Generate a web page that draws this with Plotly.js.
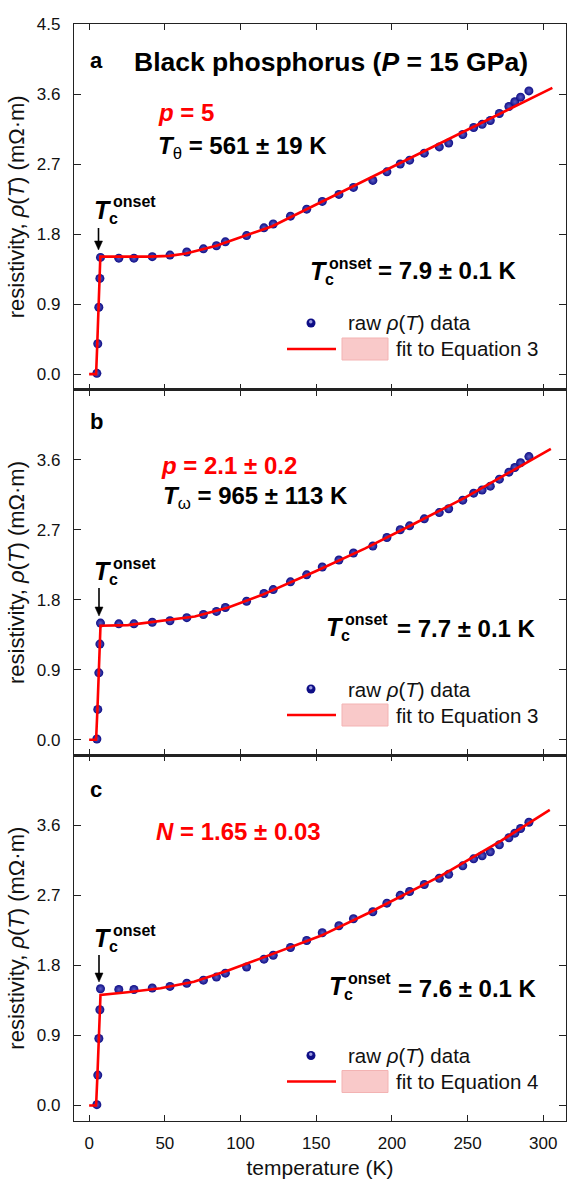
<!DOCTYPE html>
<html><head><meta charset="utf-8">
<script src="https://cdn.plot.ly/plotly-3.0.1.min.js"></script>
<style>html,body{margin:0;padding:0;background:#fff}</style>
</head><body><div id="chart" style="width:567px;height:1185px"></div>
<script>
// ---- data ----
const rawT   = [5.1, 5.7, 6.4, 7.1, 7.5, 19.6, 29.6, 41.7, 53.4, 64.5, 75.5, 84.1, 90, 104, 115.5, 121.6, 133, 143.7, 154, 165, 174.6, 187.4, 196.7, 205.5, 211.7, 221.4, 231.3, 237.5, 246.8, 254, 259.6, 265, 271, 277.3, 281.2, 285, 290.5];
const rawRho = [0.01, 0.39, 0.86, 1.23, 1.50, 1.49, 1.49, 1.51, 1.53, 1.57, 1.61, 1.65, 1.70, 1.78, 1.88, 1.93, 2.03, 2.12, 2.22, 2.31, 2.40, 2.49, 2.60, 2.70, 2.75, 2.84, 2.92, 2.97, 3.08, 3.17, 3.21, 3.26, 3.35, 3.44, 3.50, 3.56, 3.64];

const fitA_T   = [0, 4.6, 5.3, 6.4, 7.4, 20, 40, 53, 64, 84, 104, 121, 150, 200, 250, 306];
const fitA_Rho = [0, 0.0, 0.35, 0.95, 1.51, 1.51, 1.51, 1.52, 1.55, 1.65, 1.78, 1.90, 2.18, 2.66, 3.14, 3.68];

const fitB_T   = [0, 4.6, 5.5, 6.5, 7.5, 25.6, 47.7, 69.8, 91.9, 113.9, 150, 182.4, 215, 248, 305];
const fitB_Rho = [0, 0.0, 0.4, 0.95, 1.465, 1.474, 1.525, 1.585, 1.70, 1.86, 2.17, 2.46, 2.78, 3.11, 3.74];

const fitC_T   = [0, 4.6, 5.5, 6.5, 7.5, 25.3, 47.2, 69.2, 91.3, 113.4, 135.4, 153, 184.2, 232.3, 272, 304.3];
const fitC_Rho = [0, 0.0, 0.4, 0.95, 1.42, 1.455, 1.506, 1.59, 1.73, 1.89, 2.05, 2.18, 2.47, 2.95, 3.40, 3.80];

const xTicks = [0, 50, 100, 150, 200, 250, 300];
const yTicksTop = [0, 0.9, 1.8, 2.7, 3.6, 4.5];
const yTicksLow = [0, 0.9, 1.8, 2.7, 3.6];

const panelLetters = ['a', 'b', 'c'];
const equationNames = ['fit to Equation 3', 'fit to Equation 3', 'fit to Equation 4'];
const onsetTexts = ['= 7.9 ± 0.1 K', '= 7.7 ± 0.1 K', '= 7.6 ± 0.1 K'];

// ---- styling / layout ----
const FONT = 'Arial, "Liberation Sans", sans-serif';
const RED = '#ff0000';
const W = 567, H = 1185;
const M = {l: 74, r: 1, t: 24, b: 64};
const PW = W - M.l - M.r, PH = H - M.t - M.b;
const px = x => (x - M.l) / PW;
const py = y => 1 - (y - M.t) / PH;

const fits = [[fitA_T, fitA_Rho], [fitB_T, fitB_Rho], [fitC_T, fitC_Rho]];
const axSuffix = ['', '2', '3'];
const traces = [];
fits.forEach((f, i) => {
  const xa = 'x' + axSuffix[i], ya = 'y' + axSuffix[i];
  traces.push({x: rawT, y: rawRho, xaxis: xa, yaxis: ya, type: 'scatter', mode: 'markers',
    marker: {size: 9, color: '#0e0e86', gradient: {type: 'radial', color: '#5c5cc4'}, line: {width: 0}},
    showlegend: false, hoverinfo: 'skip'});
  traces.push({x: f[0], y: f[1], xaxis: xa, yaxis: ya, type: 'scatter', mode: 'lines',
    line: {color: RED, width: 2.6}, showlegend: false, hoverinfo: 'skip'});
});

const axisCommon = {showline: true, linecolor: '#222', linewidth: 1.2, mirror: 'ticks',
  ticks: 'inside', tickcolor: '#222', showgrid: false, zeroline: false,
  tickfont: {family: FONT, size: 17, color: '#111'}};

const layout = {width: W, height: H, margin: M, paper_bgcolor: '#fff', plot_bgcolor: '#fff',
  showlegend: false, font: {family: FONT}, annotations: [], shapes: []};

const yTitle = 'resistivity, <i>ρ</i>(<i>T</i>) (mΩ·m)';
const domains = [[2/3, 1], [1/3, 2/3], [0, 1/3]];
for (let i = 0; i < 3; i++) {
  const s = axSuffix[i];
  const xax = Object.assign({}, axisCommon, {anchor: 'y' + s, domain: [0, 1], range: [-10, 315],
    tickvals: xTicks, ticklen: 6, showticklabels: i === 2, ticklabelstandoff: 6});
  if (i === 2) xax.title = {text: 'temperature (K)', font: {family: FONT, size: 21, color: '#111'}, standoff: 8};
  layout['xaxis' + s] = xax;
  layout['yaxis' + s] = Object.assign({}, axisCommon, {anchor: 'x' + s, domain: domains[i], range: [-0.2, 4.5],
    tickvals: i === 0 ? yTicksTop : yTicksLow, tickformat: '.1f', ticklen: 7, ticklabelstandoff: 9,
    title: {text: yTitle, font: {family: FONT, size: 22, color: '#111'}, standoff: 6}});
}

const A = layout.annotations, S = layout.shapes;
function txt(x, y, text, size, color, xa, extra) {
  return Object.assign({xref: 'paper', yref: 'paper', x: px(x), y: py(y), text: text, showarrow: false,
    xanchor: xa || 'left', yanchor: 'middle', font: {family: FONT, size: size, color: color || '#000'}}, extra || {});
}
function tcLabel(x, y, sizeT) {
  A.push(txt(x, y, '<b><i>T</i></b>', sizeT));
  A.push(txt(x + 15, y + 8, '<b>c</b>', 16));
  A.push(txt(x + 19, y - 8, '<b>onset</b>', 16));
}
function arrow(x, yTip, len) {
  const yT = yTip - len;
  S.push({type: 'line', xref: 'paper', yref: 'paper', x0: px(x), x1: px(x), y0: py(yT), y1: py(yTip - 6),
    line: {color: '#000', width: 1.6}});
  const p = (xx, yy) => px(xx) + ',' + py(yy);
  S.push({type: 'path', xref: 'paper', yref: 'paper',
    path: 'M' + p(x - 4, yTip - 9) + ' L' + p(x + 4, yTip - 9) + ' L' + p(x, yTip) + ' Z',
    fillcolor: '#000', line: {color: '#000', width: 0.5}});
}

// title and panel letters
A.push(txt(330.5, 62, '<b>Black phosphorus (<i>P</i> = 15 GPa)</b>', 26.5, '#000', 'center'));
A.push(txt(88, 61, '<b>' + panelLetters[0] + '</b>', 22));
A.push(txt(88, 421, '<b>' + panelLetters[1] + '</b>', 22));
A.push(txt(88, 789, '<b>' + panelLetters[2] + '</b>', 22));

// parameter texts
A.push(txt(156, 113, '<b><i>p</i> = 5</b>', 24, RED));
A.push(txt(156, 148, '<b><i>T</i></b><sub>θ</sub><b> = 561 ± 19 K</b>', 24));
A.push(txt(159, 465, '<b><i>p</i> = 2.1 ± 0.2</b>', 24, RED));
A.push(txt(161, 497, '<b><i>T</i></b><sub>ω</sub><b> = 965 ± 113 K</b>', 24));
A.push(txt(154, 831, '<b><i>N</i> = 1.65 ± 0.03</b>', 24, RED));

// small Tc onset labels with arrows
const zeroY = [374, 740, 1106.5];
tcLabel(92, 210, 25); arrow(98.5, 250, 22);
tcLabel(92, 571, 25); arrow(99, 616, 28);
tcLabel(92, 938, 25); arrow(99, 982, 27);

// big Tc onset values
const bigT = [[308, 271], [324, 627], [327, 986]];
const bigEq = [[376, 271], [395, 628], [396, 988]];
for (let i = 0; i < 3; i++) {
  tcLabel(bigT[i][0], bigT[i][1], 25);
  A.push(txt(bigEq[i][0], bigEq[i][1], '<b>' + onsetTexts[i] + '</b>', 24));
}

// legends
for (let i = 0; i < 3; i++) {
  const y0 = zeroY[i];
  const yd = y0 - 51, yl = y0 - 25;
  S.push({type: 'circle', xref: 'paper', yref: 'paper', x0: px(306.5), x1: px(315.5), y0: py(yd + 4.5), y1: py(yd - 4.5),
    fillcolor: '#0e0e86', line: {width: 0}});
  S.push({type: 'circle', xref: 'paper', yref: 'paper', x0: px(309), x1: px(312.5), y0: py(yd + 0.5), y1: py(yd - 3),
    fillcolor: '#9a9ae0', line: {width: 0}});
  A.push(txt(346, yd, 'raw <i>ρ</i>(<i>T</i>) data', 20.5, '#111'));
  S.push({type: 'line', xref: 'paper', yref: 'paper', x0: px(287), x1: px(336), y0: py(yl), y1: py(yl),
    line: {color: RED, width: 2.6}});
  S.push({type: 'rect', xref: 'paper', yref: 'paper', x0: px(342), x1: px(388), y0: py(yl + 11), y1: py(yl - 11),
    fillcolor: '#f9c9c9', line: {color: '#f3b3b3', width: 1}});
  A.push(txt(394, yl, equationNames[i], 20.5, '#111'));
}

Plotly.newPlot('chart', traces, layout, {displayModeBar: false, staticPlot: true});
</script></body></html>
